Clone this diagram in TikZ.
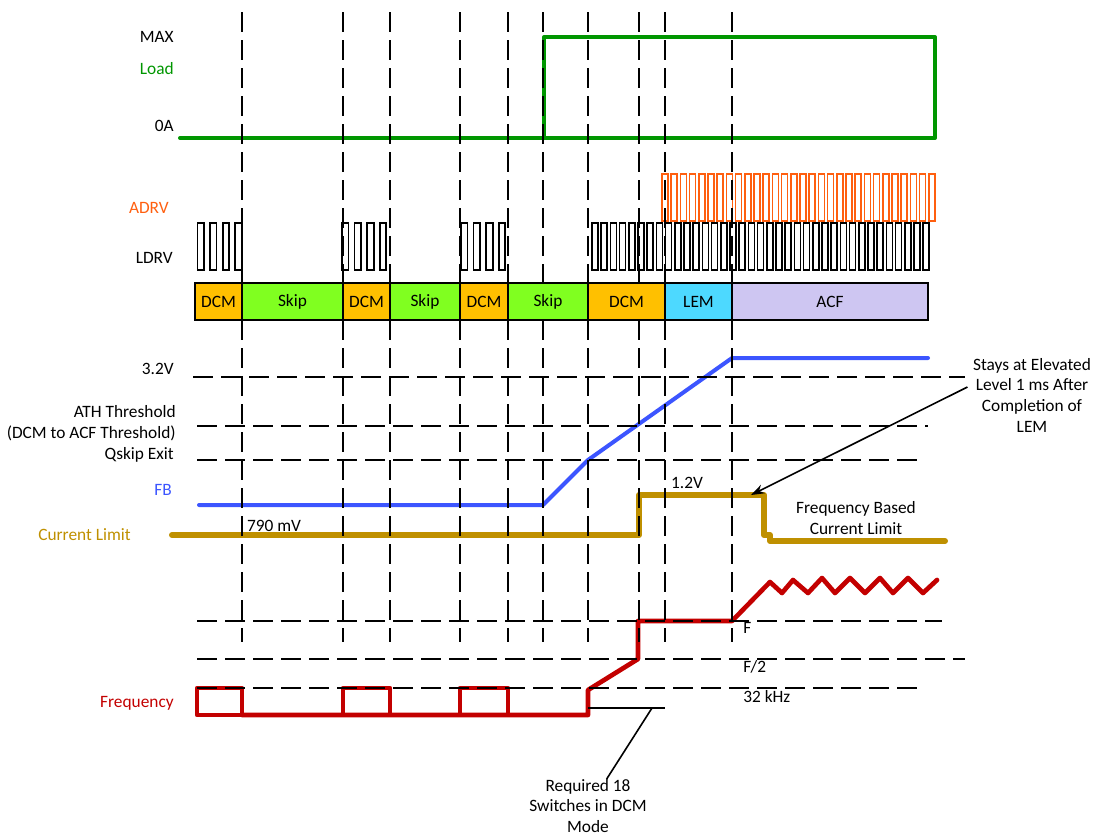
\documentclass[tikz,border=0pt]{standalone}
\usepackage{fontspec}
\setmainfont{Carlito}
\usepackage{tikz}
\usetikzlibrary{arrows.meta, positioning}
\usepackage{xcolor}
\definecolor{loadgreen}{RGB}{0, 150, 0}
\definecolor{adrvorange}{RGB}{255, 95, 15}
\definecolor{fbblue}{RGB}{60, 85, 255}
\definecolor{limgold}{RGB}{191, 144, 0}
\definecolor{freqred}{RGB}{195, 0, 0}
\definecolor{dcmfill}{RGB}{255, 192, 0}
\definecolor{skipfill}{RGB}{128, 255, 32}
\definecolor{lemfill}{RGB}{77, 217, 255}
\definecolor{acffill}{RGB}{206, 198, 242}

\begin{document}
\begin{tikzpicture}[
  x=0.75pt, y=-0.75pt,
  every node/.style={font=\fontsize{13}{15.5}\selectfont},
  guide/.style={line width=1.5pt, dash pattern=on 15pt off 6pt},
  wave/.style={line width=3pt, line join=round, line cap=round},
  pulse/.style={line width=1.3pt},
  phase/.style={draw, line width=1.7pt, minimum height=27.75pt, inner sep=0pt},
  tag/.style={anchor=east, inner sep=0pt},
  note/.style={align=center, inner sep=0pt}
]
  \useasboundingbox (0,0) rectangle (1100,836);

  % Load
  \node[tag] (tmax) at (174,37) {MAX};
  \node[tag, loadgreen] (tload) at (174,69) {Load};
  \node[tag] (tzero) at (174,126) {0A};
  \draw[wave, loadgreen] (180,138) -- (935,138) -- (935,37) -- (544,37) -- (544,138);

  % ADRV and LDRV
  \node[tag, adrvorange] (tadrv) at (169,208) {ADRV};
  \node[tag] (tldrv) at (173,258) {LDRV};
  \foreach \s in {197.5,342,461}
    \foreach \k in {0,...,3}
      \draw[pulse] ({\s+\k*12.6},223) rectangle ++(6.5,47);
  \foreach \k in {0,...,36}
    \draw[pulse] ({592+\k*9.2},223) rectangle ++(6,47);
  \foreach \k in {0,...,29}
    \draw[pulse, adrvorange] ({662+\k*9.2},174) rectangle ++(6,47);

  % FB and current limit
  \node[tag] (t32) at (174,369) {3.2V};
  \node[tag, align=right] (tath) at (176,423.5) {ATH Threshold\\(DCM to ACF Threshold)};
  \node[tag] (tqsk) at (174,455) {Qskip Exit};
  \node[tag, fbblue] (tfb) at (172,490) {FB};
  \node[tag, limgold] (tcl) at (131,535) {Current Limit};
  \draw[wave, fbblue] (199,505) -- (543,505) -- (588,460) -- (732,358) -- (928,358);
  \draw[wave, limgold, line width=4.5pt] (172,535) -- (639,535) -- (639,495) -- (764,495)
    -- (764,535) -- (770,535) -- (770,541) -- (945,541);
  \node (tmv) at (274,526) {790 mV};
  \node (tonetwo) at (687,483) {1.2V};
  \node[note] (tfbl) at (856,518) {Frequency Based\\Current Limit};
  \node[note] (tstay) at (1032,395) {Stays at Elevated\\Level 1 ms After\\Completion of\\LEM};
  \coordinate (cltop) at (751,495);
  \draw[line width=1.2pt, -{Stealth[length=10pt, width=7pt]}]
    ([xshift=-4pt, yshift=6pt]tstay.west) -- (cltop);

  % Frequency
  \node[tag, freqred] (tfreq) at (174,703) {Frequency};
  \node[anchor=west, inner sep=0pt] (tf) at (743,628) {F};
  \node[anchor=west, inner sep=0pt] (tfhalf) at (743,667) {F/2};
  \node[anchor=west, inner sep=0pt] (tkhz) at (743,697) {32 kHz};
  \draw[wave, freqred, line width=3.5pt] (197,688) rectangle (242,715) (343,688) rectangle (390,715)
    (460,688) rectangle (508,715);
  \draw[wave, freqred, line width=3.5pt] (242,715) -- (588,715) -- (588,690) -- (638,659) -- (638,621)
    -- (732,621) -- (770,582) -- (782,593) -- (793,580) -- (808,593) -- (822,578)
    -- (835,593) -- (850,578) -- (865,593) -- (880,578) -- (893,593) -- (908,578)
    -- (923,593) -- (937,580);

  % DCM switch count
  \node[note] (treq) at (588,806) {Required 18\\Switches in DCM\\Mode};
  \coordinate (swl) at (588,708);
  \coordinate (swr) at (665,708);
  \coordinate (swk) at (652,708);
  \draw[line width=1.2pt] (swl) -- (swr);
  \draw[line width=1.2pt] (swk) -- ([xshift=14pt]treq.north);

  % Guides
  \foreach \x in {242,343,390,460,508,543,588,639,665,732}
    \draw[guide] (\x,12) -- (\x,642);
  \draw[guide] (193,377) -- (965,377);
  \draw[guide] (197,426) -- (928,426);
  \draw[guide] (197,460) -- (922,460);
  \draw[guide] (197,621) -- (942,621);
  \draw[guide] (197,659) -- (965,659);
  \draw[guide] (197,688) -- (922,688);

  % Mode bar
  \foreach \a/\b/\c/\t [count=\i] in {195/242/dcmfill/DCM, 242/343/skipfill/Skip,
      343/390/dcmfill/DCM, 390/460/skipfill/Skip, 460/508/dcmfill/DCM,
      508/588/skipfill/Skip, 588/665/dcmfill/DCM, 665/732/lemfill/LEM, 732/928/acffill/ACF}
    \node[phase, fill=\c, minimum width={(\b-\a)*0.75pt}] (ph\i) at ({(\a+\b)/2},301.5) {\t};
\end{tikzpicture}
\end{document}
